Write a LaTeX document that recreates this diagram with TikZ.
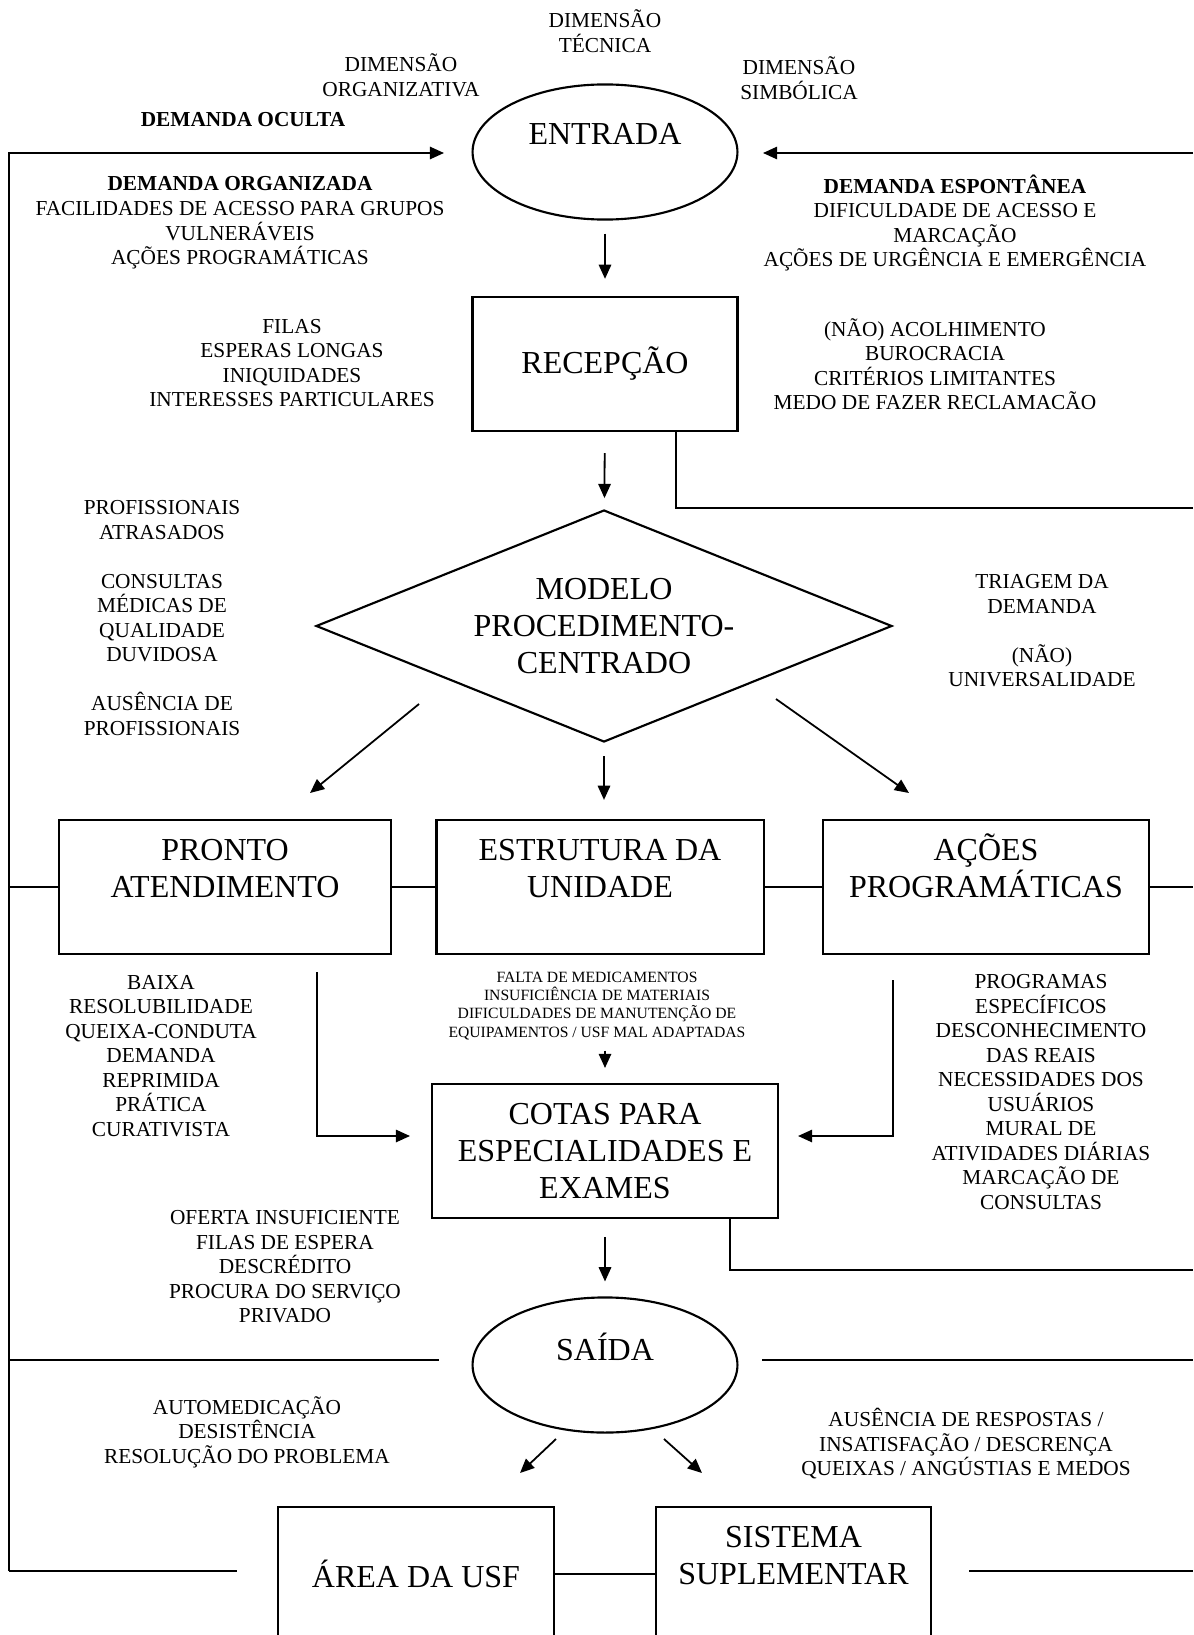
\documentclass[tikz,border=0pt]{standalone}
\usepackage{fontspec}
\setmainfont{Liberation Serif}
\usetikzlibrary{shapes.geometric,arrows.meta}
\tikzset{
  >={Triangle[length=8pt,width=7pt]},
  bigtext/.style={font=\fontsize{18}{20.8}\selectfont, align=center},
  notetext/.style={font=\fontsize{12}{13.8}\selectfont, align=center, inner sep=0pt},
  smalltext/.style={font=\fontsize{8.8}{10.2}\selectfont, align=center, inner sep=0pt}
}
\newcommand{\flowterminal}[3] {\node at (#1) (#2) [ellipse, draw, line width=1.2pt, bigtext, minimum width=149pt, minimum height=76pt, inner sep=0pt] {#3};}
\newcommand{\flowbox}[4] {\node at (#1) (#2) [rectangle, draw, line width=1.2pt, bigtext, minimum width=#3, minimum height=75.4pt, inner sep=0pt] {#4};}
\newcommand{\flowdecision}[3] {\node at (#1) (#2) [diamond, draw, line width=1.2pt, bigtext, aspect=2.48, minimum width=324pt, minimum height=130.5pt, inner sep=0pt] {#3};}
\newcommand{\flownote}[3] {\node at (#1) (#2) [notetext] {#3};}
\newcommand{\flowsmallnote}[3] {\node at (#1) (#2) [smalltext] {#3};}
\newcommand{\flowtransition}[2] {\draw [->] (#1) -- (#2);}
\newcommand{\flowelbow}[2] {\draw [->] (#1) |- (#2);}

\begin{document}
\begin{tikzpicture}[x=0.5625pt, y=-0.5625pt, line width=1pt]
\useasboundingbox (0,0) rectangle (1193,1635);

\flownote{605,31}{tecnica}{DIMENSÃO\\TÉCNICA}
\flownote{401,75}{organizativa}{DIMENSÃO\\ORGANIZATIVA}
\flownote{799,78}{simbolica}{DIMENSÃO\\SIMBÓLICA}
\flownote{243,120}{oculta}{\textbf{DEMANDA OCULTA}}
\flowterminal{605,152}{entrada}{ENTRADA\\\mbox{}}
\flownote{240,223}{organizada}{\textbf{DEMANDA ORGANIZADA}\\FACILIDADES DE ACESSO PARA GRUPOS\\VULNERÁVEIS\\AÇÕES PROGRAMÁTICAS}
\flownote{955,223}{espontanea}{\textbf{DEMANDA ESPONTÂNEA}\\DIFICULDADE DE ACESSO E\\MARCAÇÃO\\AÇÕES DE URGÊNCIA E EMERGÊNCIA}

\flowbox{605,364}{recepcao}{149pt}{RECEPÇÃO}
\flownote{292,363}{filas}{FILAS\\ESPERAS LONGAS\\INIQUIDADES\\INTERESSES PARTICULARES}
\flownote{935,364}{acolhimento}{(NÃO) ACOLHIMENTO\\BUROCRACIA\\CRITÉRIOS LIMITANTES\\MEDO DE FAZER RECLAMACÃO}

\flowdecision{604,626}{modelo}{MODELO\\PROCEDIMENTO-\\CENTRADO}
\flownote{162,618}{profissionais}{PROFISSIONAIS\\ATRASADOS\\[13.8pt]CONSULTAS\\MÉDICAS DE\\QUALIDADE\\DUVIDOSA\\[13.8pt]AUSÊNCIA DE\\PROFISSIONAIS}
\flownote{1042,631}{triagem}{TRIAGEM DA\\DEMANDA\\[13.8pt](NÃO)\\UNIVERSALIDADE}

\flowbox{225,887}{pronto}{186.75pt}{PRONTO\\ATENDIMENTO\\\mbox{}}
\flowbox{600,887}{estrutura}{184pt}{ESTRUTURA DA\\UNIDADE\\\mbox{}}
\flowbox{986,887}{acoes}{183.4pt}{\raisebox{0pt}[11.9pt]{AÇÕES}\\PROGRAMÁTICAS\\\mbox{}}
\flownote{161,1056}{baixa}{BAIXA\\RESOLUBILIDADE\\QUEIXA-CONDUTA\\DEMANDA\\REPRIMIDA\\PRÁTICA\\CURATIVISTA}
\flowsmallnote{597,1006}{falta}{FALTA DE MEDICAMENTOS\\INSUFICIÊNCIA DE MATERIAIS\\DIFICULDADES DE MANUTENÇÃO DE\\EQUIPAMENTOS / USF MAL ADAPTADAS}
\flownote{1041,1092}{programas}{PROGRAMAS\\ESPECÍFICOS\\DESCONHECIMENTO\\DAS REAIS\\NECESSIDADES DOS\\USUÁRIOS\\MURAL DE\\ATIVIDADES DIÁRIAS\\MARCAÇÃO DE\\CONSULTAS}

\flowbox{605,1151}{cotas}{194.6pt}{COTAS PARA\\ESPECIALIDADES E\\EXAMES}
\flownote{285,1267}{oferta}{OFERTA INSUFICIENTE\\FILAS DE ESPERA\\DESCRÉDITO\\PROCURA DO SERVIÇO\\PRIVADO}

\flowterminal{605,1365}{saida}{SAÍDA\\\mbox{}}
\flownote{247,1432}{automedicacao}{AUTOMEDICAÇÃO\\DESISTÊNCIA\\RESOLUÇÃO DO PROBLEMA}
\flownote{966,1444}{ausencia}{AUSÊNCIA DE RESPOSTAS /\\INSATISFAÇÃO / DESCRENÇA\\QUEIXAS / ANGÚSTIAS E MEDOS}

\flowbox{416,1574}{area}{155.25pt}{ÁREA DA USF}
\flowbox{793.5,1574}{sistema}{154.7pt}{SISTEMA\\SUPLEMENTAR\\\mbox{}}

\coordinate (railtop) at (9,153);
\coordinate (railbottom) at (9,1571);
\coordinate (entradain1) at (444,153);
\coordinate (entradain2) at (763,153);
\coordinate (rightedge) at (1193,153);
\coordinate (recepcaoout) at (676,431);
\coordinate (recepcaoright) at (1193,508);
\coordinate (modeloleft) at (419,704);
\coordinate (prontoin) at (310,793);
\coordinate (modeloright) at (776,699);
\coordinate (acoesin) at (909,793);
\coordinate (railpronto) at (9,887);
\coordinate (acoesright) at (1193,887);
\coordinate (prontoout) at (317,972);
\coordinate (cotasleft) at (410,1136);
\coordinate (programasout) at (893,980);
\coordinate (cotasright) at (798,1136);
\coordinate (cotasout) at (730,1218);
\coordinate (cotasfar) at (1193,1270);
\coordinate (saidaleft1) at (9,1360);
\coordinate (saidaleft2) at (439,1360);
\coordinate (saidaright1) at (762,1360);
\coordinate (saidaright2) at (1193,1360);
\coordinate (saidaout1) at (556,1439);
\coordinate (areain) at (520,1473);
\coordinate (saidaout2) at (664,1439);
\coordinate (sistemain) at (702,1473);
\coordinate (arealeft) at (237,1571);
\coordinate (sistemaright) at (969,1571);
\coordinate (bottomright) at (1193,1571);

\draw [->] (railbottom) -- (railtop) -- (entradain1);
\flowtransition{rightedge}{entradain2}
\draw [->, shorten <=7.3pt, shorten >=9.6pt] (entrada) -- (recepcao);
\draw [->, shorten <=11.8pt, shorten >=6.2pt] (recepcao) -- (modelo);
\draw (recepcaoout) |- (recepcaoright);
\flowtransition{modeloleft}{prontoin}
\draw [->, shorten <=7.3pt, shorten >=10.7pt] (modelo.south) -- (modelo.south |- estrutura.north);
\flowtransition{modeloright}{acoesin}
\draw (railpronto) -- (pronto) -- (estrutura) -- (acoes) -- (acoesright);
\flowelbow{prontoout}{cotasleft}
\flowelbow{programasout}{cotasright}
\draw [->, shorten <=5.6pt, shorten >=8.4pt] (cotas |- falta.south) -- (cotas.north);
\draw (cotasout) |- (cotasfar);
\draw [->, shorten <=10pt, shorten >=8.4pt] (cotas) -- (saida);
\draw (saidaleft1) -- (saidaleft2);
\draw (saidaright1) -- (saidaright2);
\flowtransition{saidaout1}{areain}
\flowtransition{saidaout2}{sistemain}
\draw (railbottom) -- (arealeft);
\draw (area) -- (sistema);
\draw (sistemaright) -- (bottomright);

\end{tikzpicture}
\end{document}
